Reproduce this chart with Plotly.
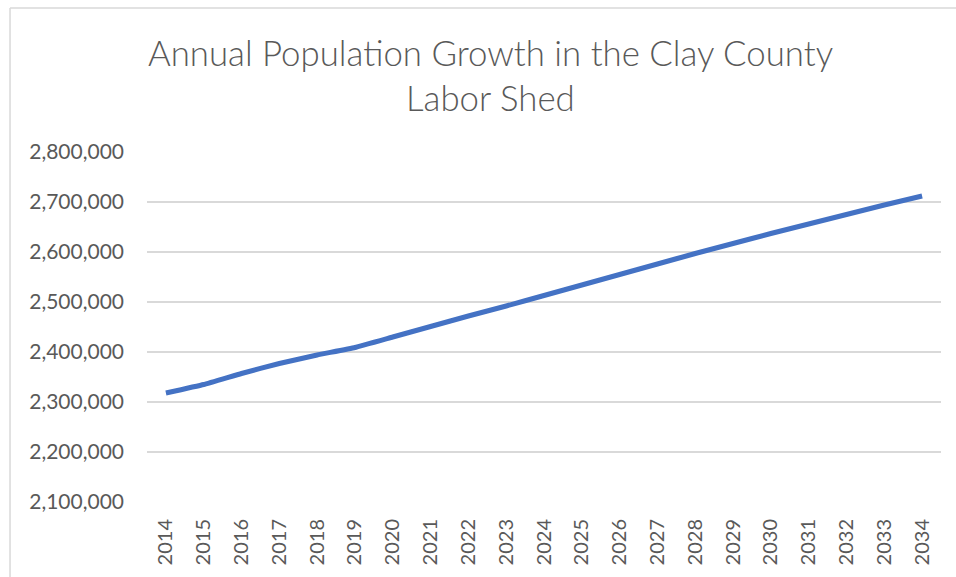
import plotly.graph_objects as go

years = [str(y) for y in range(2014, 2035)]
population = [2318000, 2335000, 2357000, 2377000, 2394000, 2409000, 2430000,
              2451000, 2472000, 2492000, 2513000, 2534000, 2555000, 2576000,
              2597000, 2617000, 2637000, 2656000, 2675000, 2694000, 2712000]
y_ticks = [2100000, 2200000, 2300000, 2400000, 2500000, 2600000, 2700000, 2800000]
y_labels = [f"{v:,}" for v in y_ticks]
title_lines = ["Annual Population Growth in the Clay County", "Labor Shed"]

fig = go.Figure()
fig.add_trace(go.Scatter(
    x=years, y=population, mode="lines",
    line=dict(color="#4472C4", width=5, shape="spline", smoothing=0.3),
    hoverinfo="x+y", showlegend=False,
))

font_family = "Lato, 'Open Sans', sans-serif"
title_font = dict(family="Lato, sans-serif", size=34.8, color="#595959", weight=300)
fig.update_layout(
    width=956, height=577,
    margin=dict(l=147, r=15, t=152, b=75, autoexpand=False),
    paper_bgcolor="white", plot_bgcolor="white",
    font=dict(family=font_family, color="#595959"),
    xaxis=dict(
        type="category", tickangle=-90, range=[-0.5, 20.5],
        tickfont=dict(size=20, color="#595959"),
        showgrid=False, showline=False, zeroline=False, ticks="",
        ticklabelstandoff=12, automargin=False,
    ),
    yaxis=dict(
        range=[2100000, 2800000],
        tickvals=y_ticks, ticktext=y_labels,
        tickfont=dict(size=21, color="#595959"),
        showgrid=True, gridcolor="#D9D9D9", gridwidth=1.5,
        zeroline=False, showline=False, ticks="",
        ticklabelstandoff=22, automargin=False,
    ),
    annotations=[
        dict(text=title_lines[0], xref="paper", yref="paper", x=0.432, y=1.2857,
             xanchor="center", yanchor="middle", showarrow=False, font=title_font),
        dict(text=title_lines[1], xref="paper", yref="paper", x=0.432, y=1.1543,
             xanchor="center", yanchor="middle", showarrow=False, font=title_font),
    ],
    shapes=[
        dict(type="line", xref="paper", yref="paper", x0=-0.1725, x1=1.03, y0=1.4114, y1=1.4114,
             line=dict(color="#D9D9D9", width=1.5)),
        dict(type="line", xref="paper", yref="paper", x0=-0.1725, x1=-0.1725, y0=1.4114, y1=-0.3,
             line=dict(color="#D9D9D9", width=1.5)),
    ],
)

fig.write_html("out.html", config={"displayModeBar": False},
               post_script="document.body.style.margin='0';document.body.style.padding='0';")
